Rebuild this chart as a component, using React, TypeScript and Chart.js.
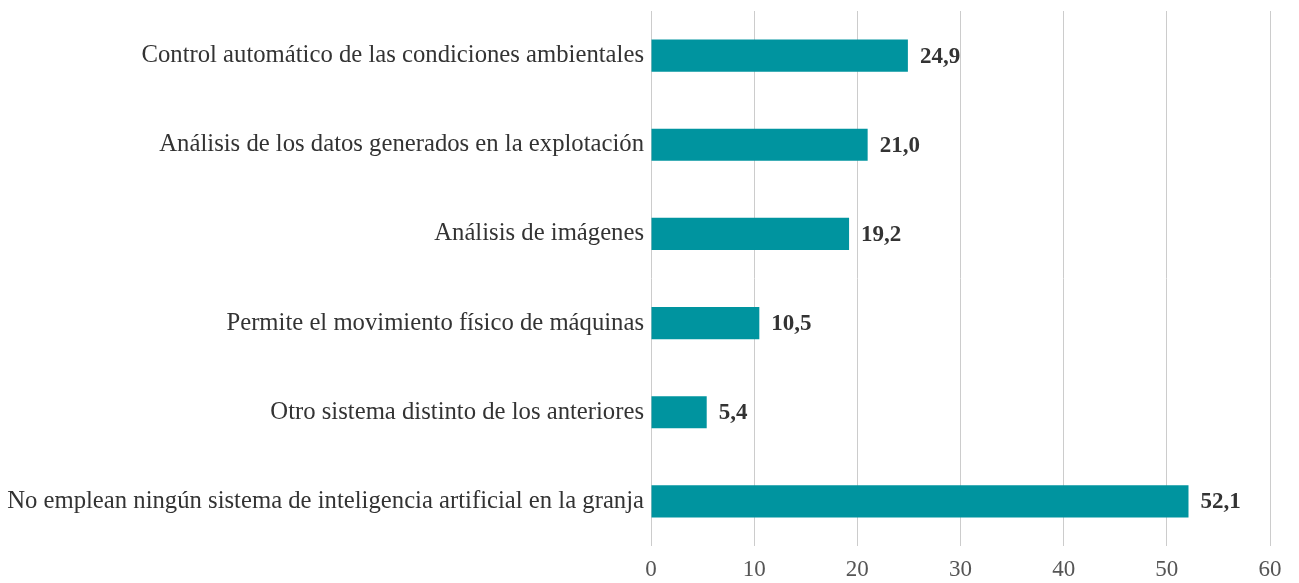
import React, { useEffect, useRef } from "react";
import { Chart, registerables } from "chart.js";

Chart.register(...registerables);

const categories = [
  "Control automático de las condiciones ambientales",
  "Análisis de los datos generados en la explotación",
  "Análisis de imágenes",
  "Permite el movimiento físico de máquinas",
  "Otro sistema distinto de los anteriores",
  "No emplean ningún sistema de inteligencia artificial en la granja",
];
const values = [24.9, 21.0, 19.2, 10.5, 5.4, 52.1];
const xTicks = [0, 10, 20, 30, 40, 50, 60];

const FONT = "'Liberation Serif', 'Times New Roman', serif";

const labelPlugin = {
  id: "valueLabels",
  afterDatasetsDraw(chart: any) {
    const ctx = chart.ctx;
    const meta = chart.getDatasetMeta(0);
    ctx.save();
    ctx.font = `bold 23px ${FONT}`;
    ctx.fillStyle = "#333333";
    ctx.textAlign = "left";
    ctx.textBaseline = "middle";
    meta.data.forEach((bar: any, i: number) => {
      const txt = values[i].toFixed(1).replace(".", ",");
      ctx.fillText(txt, bar.x + 12, bar.y + 1);
    });
    ctx.restore();
  },
};

export default function App() {
  const ref = useRef<HTMLCanvasElement>(null);
  useEffect(() => {
    document.body.style.margin = "0";
    const chart = new Chart(ref.current!, {
      type: "bar",
      data: {
        labels: categories,
        datasets: [
          {
            data: values,
            backgroundColor: "#00949F",
            barPercentage: 0.36,
            categoryPercentage: 1,
          },
        ],
      },
      options: {
        indexAxis: "y",
        animation: false,
        responsive: false,
        layout: { padding: { top: 11, right: 29, left: 0, bottom: 0 } },
        plugins: { legend: { display: false }, tooltip: { enabled: false } },
        scales: {
          x: {
            min: 0,
            max: 60,
            afterBuildTicks: (s: any) => {
              s.ticks = xTicks.map((v) => ({ value: v }));
            },
            afterFit: (s: any) => {
              s.height = 37;
            },
            grid: { color: "#cccccc", lineWidth: 1, drawTicks: false },
            border: { display: false },
            ticks: {
              padding: 10,
              color: "#555555",
              font: { family: FONT, size: 23 },
            },
          },
          y: {
            afterFit: (s: any) => {
              s.width = 651;
              s.paddingTop = 0;
              s.paddingBottom = 0;
            },
            grid: { display: false, drawTicks: false },
            border: { display: false },
            ticks: {
              padding: 7,
              color: "#333333",
              font: { family: FONT, size: 24.7 },
            },
          },
        },
      },
      plugins: [labelPlugin],
    });
    return () => chart.destroy();
  }, []);
  return (
    <div style={{ width: 1299, height: 583 }}>
      <canvas ref={ref} width={1299} height={583} style={{ display: "block" }} />
    </div>
  );
}
